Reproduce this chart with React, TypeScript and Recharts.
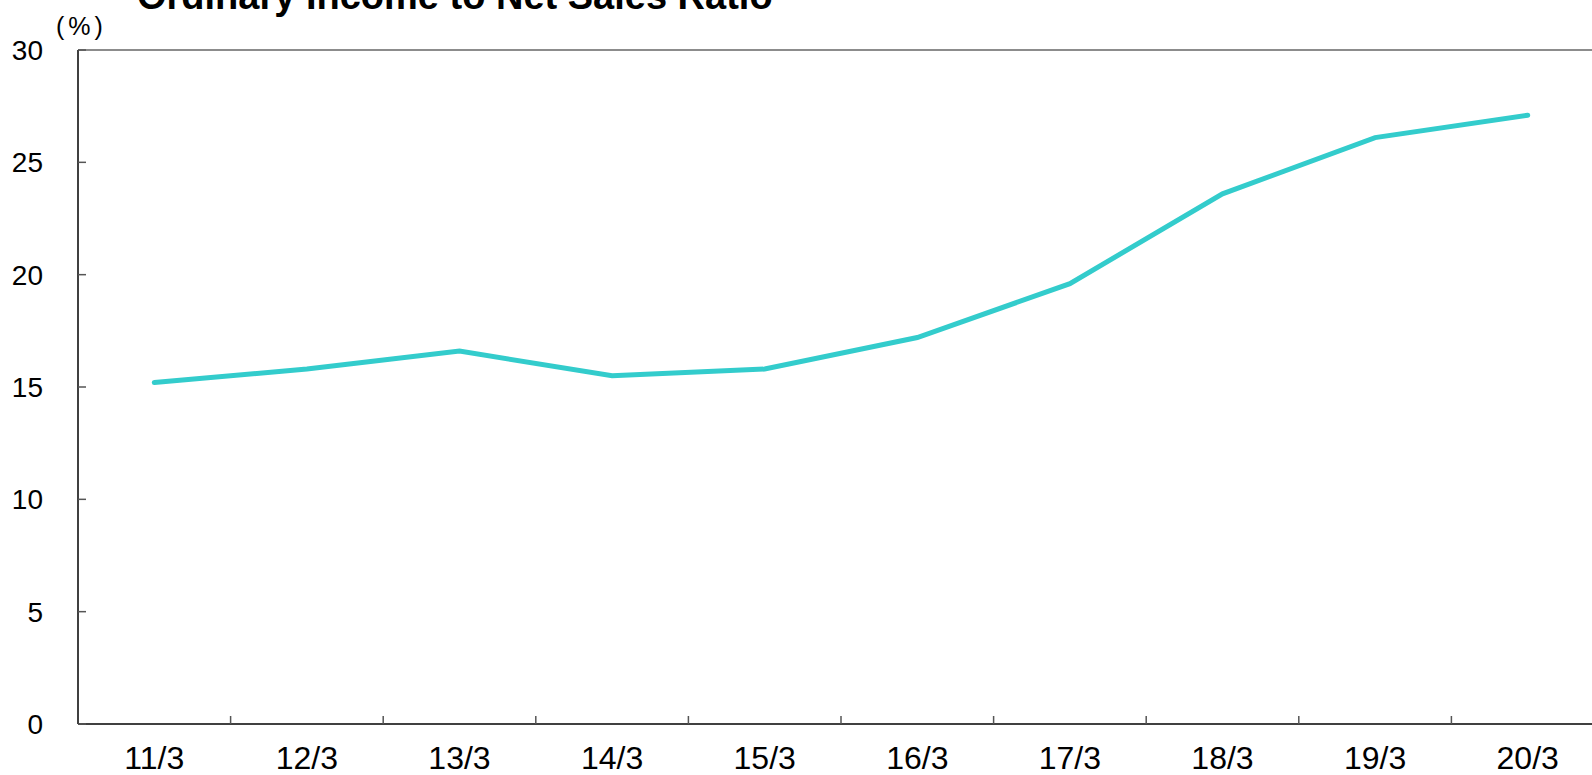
import React from "react";
import { LineChart, Line, XAxis, YAxis, ReferenceLine } from "recharts";

const periods = ["11/3", "12/3", "13/3", "14/3", "15/3", "16/3", "17/3", "18/3", "19/3", "20/3"];
const ratio = [15.2, 15.8, 16.6, 15.5, 15.8, 17.2, 19.6, 23.6, 26.1, 27.1];
const yTicks = [0, 5, 10, 15, 20, 25, 30];

const data = periods.map((p, i) => ({ period: p, ratio: ratio[i] }));

const FONT = "'Liberation Sans', Arial, sans-serif";

const PeriodTick = (props: any) => {
  const { x, y, payload, index, width, visibleTicksCount } = props;
  const half = width / visibleTicksCount / 2;
  return (
    <g>
      {index < visibleTicksCount - 1 && (
        <line x1={x + half} x2={x + half} y1={y} y2={y - 8} stroke="#555" strokeWidth={1.5} />
      )}
      <text
        x={x}
        y={y + 22}
        dy="0.71em"
        textAnchor="middle"
        fontFamily={FONT}
        fontSize={32}
        fill="#000"
      >
        {payload.value}
      </text>
    </g>
  );
};

export default function App() {
  return (
    <div
      style={{
        position: "absolute",
        left: 0,
        top: 0,
        width: 1592,
        height: 775,
        overflow: "hidden",
        background: "#fff",
      }}
    >
      <div
        style={{
          position: "absolute",
          left: 137,
          top: -25,
          fontFamily: FONT,
          fontWeight: 700,
          fontSize: 38,
          lineHeight: "normal",
          whiteSpace: "nowrap",
        }}
      >
        Ordinary Income to Net Sales Ratio
      </div>
      <div
        style={{
          position: "absolute",
          left: 56,
          top: 12,
          fontFamily: FONT,
          fontSize: 25,
          letterSpacing: 4,
          lineHeight: "normal",
        }}
      >
        (%)
      </div>
      <LineChart
        width={1620}
        height={775}
        data={data}
        margin={{ top: 50, right: 16, left: 8, bottom: 0 }}
      >
        <XAxis
          dataKey="period"
          scale="band"
          height={51}
          tickLine={false}
          tickSize={0}
          tickMargin={0}
          interval={0}
          tick={<PeriodTick />}
          axisLine={{ stroke: "#000", strokeWidth: 1.5 }}
        />
        <YAxis
          width={70}
          domain={[0, 30]}
          ticks={yTicks}
          interval={0}
          tickSize={-8}
          tickMargin={43}
          tickLine={{ stroke: "#555", strokeWidth: 1.5 }}
          axisLine={{ stroke: "#000", strokeWidth: 1.5 }}
          tick={{ fill: "#000", fontSize: 28, fontFamily: FONT }}
        />
        <ReferenceLine y={30} stroke="#666" strokeWidth={1.5} />
        <Line
          dataKey="ratio"
          stroke="#33CCCC"
          strokeWidth={5}
          strokeLinecap="round"
          dot={false}
          activeDot={false}
          type="linear"
          isAnimationActive={false}
        />
      </LineChart>
    </div>
  );
}
